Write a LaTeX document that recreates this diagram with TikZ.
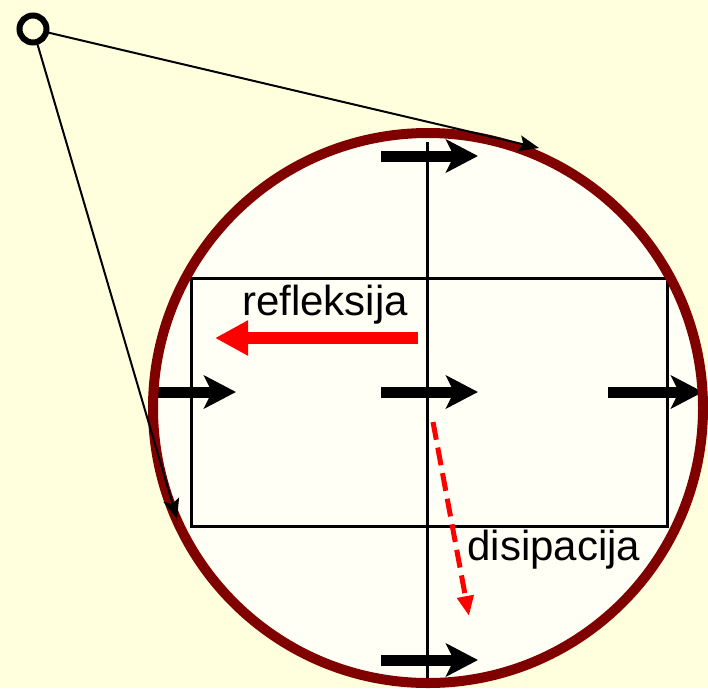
\documentclass[tikz,border=0pt]{standalone}
\usepackage{fontspec}
\setmainfont{Liberation Sans}
\usetikzlibrary{arrows.meta}
\definecolor{bgyellow}{RGB}{255,255,221}
\definecolor{inwhite}{RGB}{255,255,245}
\definecolor{darkred}{RGB}{128,0,0}
\begin{document}
\begin{tikzpicture}[x=1pt,y=-1pt,
  flow/.style={line width=11pt,-{Stealth[length=32pt,width=33pt,inset=8pt]}},
  thinline/.style={line width=2pt},
  lbl/.style={font=\fontsize{42}{50}\selectfont,inner sep=0pt}]
\useasboundingbox (0,0) rectangle (708,688);
\fill[bgyellow] (0,0) rectangle (708,688);
\begin{scope}
\clip (0,0) rectangle (708,688);
\fill[inwhite] (428,408) circle[radius=275];
% rectangle and vertical line
\draw[line width=3pt] (191,278) rectangle (667,526);
\draw[line width=3pt] (427,142) -- (427,680);
% black arrows
\draw[flow] (381,156) -- (478,156);
\draw[flow] (153,392) -- (236,392);
\draw[flow] (381,392) -- (478,392);
\draw[flow] (608,392) -- (703,392);
\draw[flow] (381,660) -- (478,660);
% circle outline
\draw[darkred,line width=10pt] (428,408) circle[radius=275];
\end{scope}
% reflection arrow
\draw[red,line width=12pt,-{Triangle[length=33pt,width=33pt]}] (418,338) -- (215,338);
\node[lbl] (refl) at (325,305) {refleksija};
% dissipation arrow
\draw[red,line width=5pt,dash pattern=on 18pt off 8pt,-{Triangle[length=20pt,width=16pt]}] (433,422) -- (469,616);
\node[lbl] (dis) at (554,550) {disipacija};
% source and rays
\node[circle,draw,line width=6pt,minimum size=27pt,inner sep=0pt] (src) at (33,29) {};
\coordinate (ta) at (539,148);
\coordinate (tb) at (177,519);
\draw[thinline,-{Stealth[length=20pt,width=16pt,inset=4pt]}] (src) -- (ta);
\draw[thinline,-{Stealth[length=20pt,width=16pt,inset=4pt]}] (src) -- (tb);
\end{tikzpicture}
\end{document}
